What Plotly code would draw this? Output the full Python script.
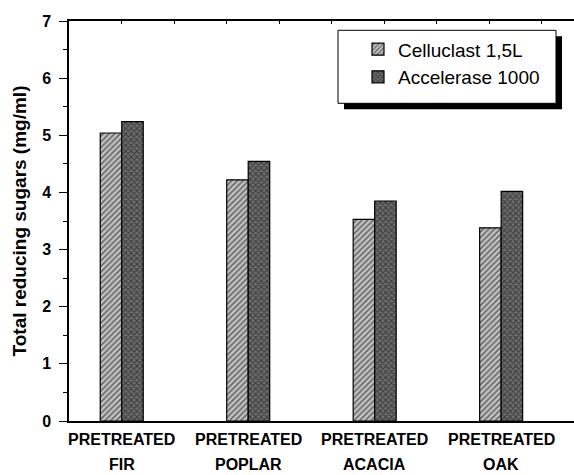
import plotly.graph_objects as go

categories = ["FIR", "POPLAR", "ACACIA", "OAK"]
label_top = "PRETREATED"
series_names = ["Celluclast 1,5L", "Accelerase 1000"]
celluclast = [5.04, 4.22, 3.53, 3.38]
accelerase = [5.24, 4.545, 3.85, 4.02]
y_title = "Total reducing sugars (mg/ml)"

W, H = 574, 475
ML, MR, MT, MB = 69, 0, 20.7, 54.3
PW = W - ML - MR
PH = H - MT - MB

def px_x(p):
    return (p - ML) / PW

def px_y(p):
    return (H - MB - p) / PH

FONT = "Liberation Sans, Arial, Helvetica, sans-serif"

fig = go.Figure()
fig.add_trace(go.Bar(
    x=categories, y=celluclast, name=series_names[0],
    marker=dict(color="#c0c0c0", line=dict(color="#000", width=1.2),
                pattern=dict(shape="/", bgcolor="#c4c4c4", fgcolor="#111",
                             size=4, solidity=0.45)),
))
fig.add_trace(go.Bar(
    x=categories, y=accelerase, name=series_names[1],
    marker=dict(color="#555", line=dict(color="#000", width=1.2),
                pattern=dict(shape="x", bgcolor="#6e6e6e", fgcolor="#111",
                             size=4, solidity=0.5)),
))
# top axis (tick marks only)
fig.add_trace(go.Scatter(x=[], y=[], xaxis="x2", yaxis="y", showlegend=False))

shapes = [
    dict(type="rect", xref="paper", yref="paper",
         x0=px_x(344), x1=px_x(562), y0=px_y(109), y1=px_y(36),
         fillcolor="#000", line=dict(width=0), layer="above"),
    dict(type="rect", xref="paper", yref="paper",
         x0=px_x(338), x1=px_x(556), y0=px_y(103), y1=px_y(30),
         fillcolor="#fff", line=dict(color="#000", width=1), layer="above"),
]

annotations = []
for c in categories:
    annotations.append(dict(x=c, y=0, xref="x", yref="paper", text=label_top,
                            showarrow=False, yanchor="top", yshift=-8,
                            font=dict(family=FONT, size=16, color="#000", weight="bold")))
    annotations.append(dict(x=c, y=0, xref="x", yref="paper", text=c,
                            showarrow=False, yanchor="top", yshift=-33,
                            font=dict(family=FONT, size=16, color="#000", weight="bold")))

fig.update_layout(
    width=W, height=H,
    margin=dict(l=ML, r=MR, t=MT, b=MB, pad=0),
    paper_bgcolor="#fff", plot_bgcolor="#fff",
    barmode="group", bargap=0.66, bargroupgap=0,
    font=dict(family=FONT, color="#000"),
    showlegend=True,
    legend=dict(x=px_x(358), y=px_y(30), xanchor="left", yanchor="top",
                bgcolor="rgba(0,0,0,0)", borderwidth=0,
                font=dict(family=FONT, size=19, color="#000"),
                tracegroupgap=0),
    xaxis=dict(type="category", range=[-0.417, 3.576], showline=True,
               linecolor="#000", linewidth=1.5, ticks="", showticklabels=False,
               showgrid=False, zeroline=False),
    xaxis2=dict(overlaying="x", side="top", range=[0, PW / 52.5], dtick=1, tick0=0,
                showline=True, linecolor="#000", linewidth=1.5, ticks="inside",
                ticklen=3, tickcolor="#000", showticklabels=False, showgrid=False,
                zeroline=False),
    yaxis=dict(range=[0, 7], dtick=1, tick0=0, showline=True, linecolor="#000",
               linewidth=1.5, ticks="outside", ticklen=8, tickwidth=1.2, tickcolor="#000",
               minor=dict(dtick=0.5, ticks="outside", ticklen=4, tickcolor="#000", tickwidth=1),
               showgrid=False, zeroline=False, ticklabelstandoff=5,
               tickfont=dict(family=FONT, size=16, color="#000", weight="bold"),
               title=dict(text=y_title, standoff=10,
                          font=dict(family=FONT, size=19, color="#000", weight="bold"))),
    shapes=shapes,
    annotations=annotations,
)

fig.write_html("out.html")
